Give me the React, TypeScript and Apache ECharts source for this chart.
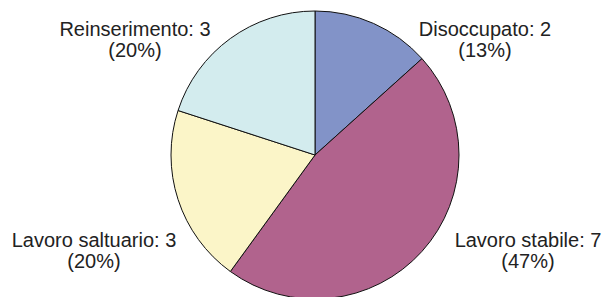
import React, { useEffect, useRef } from "react";
import * as echarts from "echarts";

const categories = ["Disoccupato", "Lavoro stabile", "Lavoro saltuario", "Reinserimento"];
const values = [2, 7, 3, 3];
const colors = ["#8293C8", "#B1638D", "#FBF5C8", "#D3ECEE"];
const labelPositions: [number, number][] = [
  [485, 39],
  [528, 250],
  [94, 250],
  [135, 39],
];

export default function App() {
  const ref = useRef<HTMLDivElement>(null);
  useEffect(() => {
    if (!ref.current) return;
    const chart = echarts.init(ref.current, undefined, { renderer: "svg" });
    chart.setOption({
      animation: false,
      backgroundColor: "#ffffff",
      series: [
        {
          type: "pie",
          center: [315, 155],
          radius: 144,
          startAngle: 90,
          clockwise: true,
          percentPrecision: 0,
          avoidLabelOverlap: false,
          data: categories.map((c, i) => ({
            name: c,
            value: values[i],
            itemStyle: { color: colors[i] },
          })),
          itemStyle: { borderColor: "#111", borderWidth: 1 },
          label: {
            show: true,
            position: "outside",
            formatter: "{b}: {c}\n({d}%)",
            fontFamily: "'Liberation Sans', Arial, sans-serif",
            fontSize: 20,
            lineHeight: 21,
            color: "#222",
            align: "center",
          },
          labelLine: { show: false },
          labelLayout: (params: any) => ({
            x: labelPositions[params.dataIndex][0],
            y: labelPositions[params.dataIndex][1],
            align: "center",
            verticalAlign: "middle",
          }),
          emphasis: { disabled: true },
        },
      ],
    });
    return () => chart.dispose();
  }, []);
  return (
    <div
      ref={ref}
      style={{ position: "fixed", left: 0, top: 0, width: 605, height: 297 }}
    />
  );
}
